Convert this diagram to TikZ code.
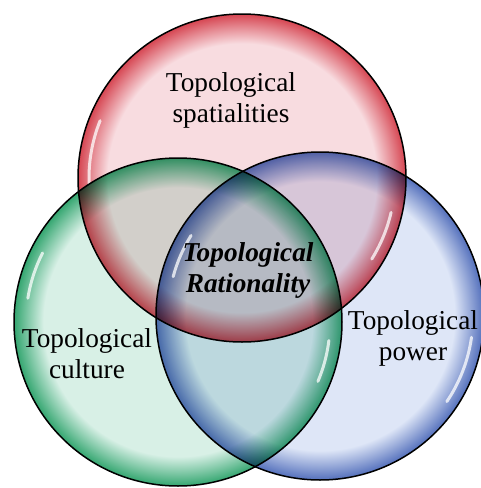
\documentclass[tikz,border=0pt]{standalone}
\usepackage{fontspec}
\setmainfont{Liberation Serif}

\definecolor{spatin}{RGB}{248,220,224}
\definecolor{spatout}{RGB}{214,70,82}
\definecolor{cultin}{RGB}{216,240,230}
\definecolor{cultout}{RGB}{52,166,112}
\definecolor{powin}{RGB}{222,230,247}
\definecolor{powout}{RGB}{84,112,188}

\pgfdeclareradialshading{spatball}{\pgfpoint{0bp}{0bp}}{color(0bp)=(spatin); color(20.5bp)=(spatin); color(23bp)=(spatin!45!spatout); color(25bp)=(spatout); color(50bp)=(spatout)}
\pgfdeclareradialshading{cultball}{\pgfpoint{0bp}{0bp}}{color(0bp)=(cultin); color(20.5bp)=(cultin); color(23bp)=(cultin!45!cultout); color(25bp)=(cultout); color(50bp)=(cultout)}
\pgfdeclareradialshading{powball}{\pgfpoint{0bp}{0bp}}{color(0bp)=(powin); color(20.5bp)=(powin); color(23bp)=(powin!45!powout); color(25bp)=(powout); color(50bp)=(powout)}

\tikzset{
  ball/.style={circle, minimum size=328pt, inner sep=0pt, shade},
  rim/.style={draw=black, line width=1.5pt},
  gloss/.style={draw=white, line width=3pt, line cap=round, opacity=0.75},
  label/.style={align=center, font=\fontsize{27.3}{31}\selectfont}
}

\begin{document}
\begin{tikzpicture}[x=1pt,y=1pt,yscale=-1,xscale=1]
		\useasboundingbox (0,0) rectangle (480,488);
		
		% the three bubbles, overlaps darken
		\begin{scope}[blend group=multiply]
		\node [ball, shading=powball] (pow) at (320,316) {};
		\node [ball, shading=cultball] (cult) at (178,322) {};
		\node [ball, shading=spatball] (spat) at (242,178) {};
		\end{scope}
		
		% glossy streaks
		\draw [gloss, shift={(spat.center)}] (-158:153) arc [start angle=-158, end angle=-182, radius=153];
		\draw [gloss, shift={(spat.center)}] (13:153) arc [start angle=13, end angle=32, radius=153];
		\draw [gloss, shift={(cult.center)}] (-153:152) arc [start angle=-153, end angle=-171, radius=152];
		\draw [gloss, shift={(cult.center)}] (7:152) arc [start angle=7, end angle=23, radius=152];
		\draw [gloss, shift={(pow.center)}] (-148:152) arc [start angle=-148, end angle=-165, radius=152];
		\draw [gloss, shift={(pow.center)}] (8:153) arc [start angle=8, end angle=34, radius=153];
		
		% outlines on top
		\foreach \n in {pow,cult,spat}
		  \draw [rim] (\n.center) circle [radius=164];
		
		\node [label] (spatlab) at (231,100) {Topological\\spatialities};
		\node [label, font=\fontsize{27.3}{31}\selectfont\bfseries\itshape] (ratlab) at (248,270) {Topological\\Rationality};
		\node [label] (cultlab) at (87,354) {Topological\\culture};
		\node [label] (powlab) at (413,338) {Topological\\power};
		
\end{tikzpicture}
\end{document}
